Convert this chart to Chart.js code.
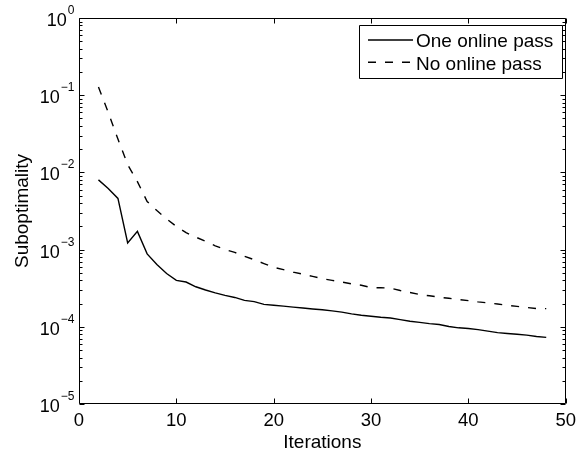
<!DOCTYPE html>
<html>
<head>
<meta charset="utf-8">
<title>Suboptimality</title>
<script src="https://cdn.jsdelivr.net/npm/chart.js@4.4.0/dist/chart.umd.min.js"></script>
<style>
html, body { margin: 0; padding: 0; background: #fff; }
#wrap { width: 582px; height: 456px; position: relative; }
</style>
</head>
<body>
<div id="wrap"><canvas id="maincanvas"></canvas></div>
<script>
var iterations = [2, 3, 4, 5, 6, 7, 8, 9, 10, 11, 12, 13, 14, 15, 16, 17, 18, 19, 20, 21, 22, 23, 24, 25,
                  26, 27, 28, 29, 30, 31, 32, 33, 34, 35, 36, 37, 38, 39, 40, 41, 42, 43, 44, 45, 46, 47, 48];
var onePass = [8.0e-3, 6.2e-3, 4.6e-3, 1.22e-3, 1.72e-3, 8.8e-4, 6.4e-4, 4.9e-4, 4.0e-4, 3.8e-4, 3.3e-4, 3.0e-4,
               2.75e-4, 2.55e-4, 2.4e-4, 2.2e-4, 2.12e-4, 1.95e-4, 1.9e-4, 1.85e-4, 1.8e-4, 1.75e-4, 1.7e-4, 1.66e-4,
               1.61e-4, 1.55e-4, 1.47e-4, 1.41e-4, 1.37e-4, 1.33e-4, 1.3e-4, 1.24e-4, 1.18e-4, 1.14e-4, 1.1e-4, 1.07e-4,
               1.01e-4, 9.7e-5, 9.5e-5, 9.2e-5, 8.8e-5, 8.4e-5, 8.2e-5, 8.0e-5, 7.8e-5, 7.5e-5, 7.3e-5];
var noPass = [0.128, 0.06, 0.027, 0.0126, 7.6e-3, 4.2e-3, 3.2e-3, 2.5e-3, 2.0e-3, 1.66e-3, 1.45e-3, 1.28e-3,
              1.12e-3, 1.0e-3, 9.2e-4, 8.2e-4, 7.4e-4, 6.6e-4, 5.9e-4, 5.5e-4, 5.1e-4, 4.8e-4, 4.5e-4, 4.2e-4,
              4.0e-4, 3.8e-4, 3.6e-4, 3.45e-4, 3.22e-4, 3.2e-4, 3.17e-4, 2.95e-4, 2.78e-4, 2.62e-4, 2.52e-4, 2.42e-4,
              2.34e-4, 2.26e-4, 2.18e-4, 2.1e-4, 2.04e-4, 1.97e-4, 1.9e-4, 1.84e-4, 1.78e-4, 1.72e-4, 1.72e-4];
var seriesNames = ["One online pass", "No online pass"];
var xTicks = [0, 10, 20, 30, 40, 50];
var yDecades = [-5, -4, -3, -2, -1, 0];

var FONT = '"Liberation Sans", Arial, Helvetica, sans-serif';
Chart.defaults.font.family = FONT;
Chart.defaults.color = "#000";

function pts(ys) {
    return iterations.map(function (it, i) { return { x: it, y: ys[i] }; });
}

// matlab style box, inward ticks, 10^n labels and boxed legend
var matlabFrame = {
    id: "matlabFrame",
    afterDraw: function (chart) {
        var ctx = chart.ctx, a = chart.chartArea;
        var xs = chart.scales.x, ys = chart.scales.y;
        var L = Math.round(a.left) + 0.5, R = Math.round(a.right) - 0.5;
        var T = Math.round(a.top) + 0.5, B = Math.round(a.bottom) - 0.5;
        ctx.save();
        ctx.strokeStyle = "#000";
        ctx.lineWidth = 1;
        ctx.beginPath();
        ctx.rect(L, T, R - L, B - T);
        // x ticks top and bottom
        xTicks.forEach(function (v) {
            var px = Math.round(xs.getPixelForValue(v)) + 0.5;
            ctx.moveTo(px, B); ctx.lineTo(px, B - 5);
            ctx.moveTo(px, T); ctx.lineTo(px, T + 5);
        });
        // y major + minor ticks on both sides
        yDecades.forEach(function (d) {
            for (var k = 1; k <= 9; k++) {
                if (d === 0 && k > 1) break;
                var py = Math.round(ys.getPixelForValue(k * Math.pow(10, d))) + 0.5;
                var len = k === 1 ? 5 : 3;
                ctx.moveTo(L, py); ctx.lineTo(L + len, py);
                ctx.moveTo(R, py); ctx.lineTo(R - len, py);
            }
        });
        ctx.stroke();

        // y tick labels 10^n
        ctx.fillStyle = "#000";
        ctx.textAlign = "right";
        ctx.textBaseline = "alphabetic";
        yDecades.forEach(function (d) {
            var py = ys.getPixelForValue(Math.pow(10, d));
            var ex = d < 0 ? "\u2212" + (-d) : String(d);
            var xr = a.left - 4.5;
            ctx.font = "12px " + FONT;
            var w = ctx.measureText(ex).width;
            ctx.fillText(ex, xr, py - 4);
            ctx.font = "18px " + FONT;
            ctx.fillText("10", xr - w - 1, py + 8);
        });

        // legend
        var bx = 359, by = Math.round(a.top) + 7.5, bw = 203, bh = 53;
        ctx.fillStyle = "#fff";
        ctx.fillRect(bx, by, bw, bh);
        ctx.beginPath();
        ctx.rect(bx + 0.5, by, bw, bh);
        ctx.stroke();
        ctx.font = "19px " + FONT;
        ctx.textAlign = "left";
        ctx.fillStyle = "#000";
        chart.data.datasets.forEach(function (ds, i) {
            var ly = by + 14.5 + i * 22.3;
            ctx.save();
            ctx.lineWidth = ds.borderWidth;
            ctx.setLineDash(ds.borderDash || []);
            ctx.beginPath();
            ctx.moveTo(bx + 9, ly);
            ctx.lineTo(bx + 54, ly);
            ctx.stroke();
            ctx.restore();
            ctx.fillText(ds.label, bx + 57, ly + 7.3);
        });
        ctx.restore();
    }
};

var mainchart = document.getElementById("maincanvas").getContext("2d");
var mainLineChart = new Chart(mainchart, {
    type: "line",
    data: {
        datasets: [{
            label: seriesNames[0],
            data: pts(onePass),
            borderColor: "#000",
            borderWidth: 1.4,
            pointRadius: 0,
            tension: 0
        }, {
            label: seriesNames[1],
            data: pts(noPass),
            borderColor: "#000",
            borderWidth: 1.4,
            borderDash: [8, 9],
            pointRadius: 0,
            tension: 0
        }]
    },
    options: {
        responsive: true,
        maintainAspectRatio: false,
        animation: false,
        layout: { padding: { top: 18, right: 14, left: 0, bottom: 0 } },
        plugins: {
            legend: { display: false },
            tooltip: { enabled: false }
        },
        scales: {
            x: {
                type: "linear",
                min: 0,
                max: 50,
                grid: { display: false, drawTicks: false },
                border: { display: false },
                afterBuildTicks: function (s) { s.ticks = xTicks.map(function (v) { return { value: v }; }); },
                afterFit: function (s) { s.height = 52; },
                ticks: { padding: 6, maxRotation: 0, font: { size: 18.5 }, color: "#000" },
                title: { display: true, text: "Iterations", font: { size: 19 }, color: "#000", padding: { top: 0, bottom: 2 } }
            },
            y: {
                type: "logarithmic",
                min: 1e-5,
                max: 1,
                grid: { display: false, drawTicks: false },
                border: { display: false },
                afterBuildTicks: function (s) { s.ticks = yDecades.map(function (d) { return { value: Math.pow(10, d) }; }); },
                afterFit: function (s) { s.width = 79; },
                ticks: { display: false },
                title: { display: true, text: "Suboptimality", font: { size: 19 }, color: "#000", padding: { top: 11, bottom: 0 } }
            }
        }
    },
    plugins: [matlabFrame]
});
</script>
</body>
</html>
